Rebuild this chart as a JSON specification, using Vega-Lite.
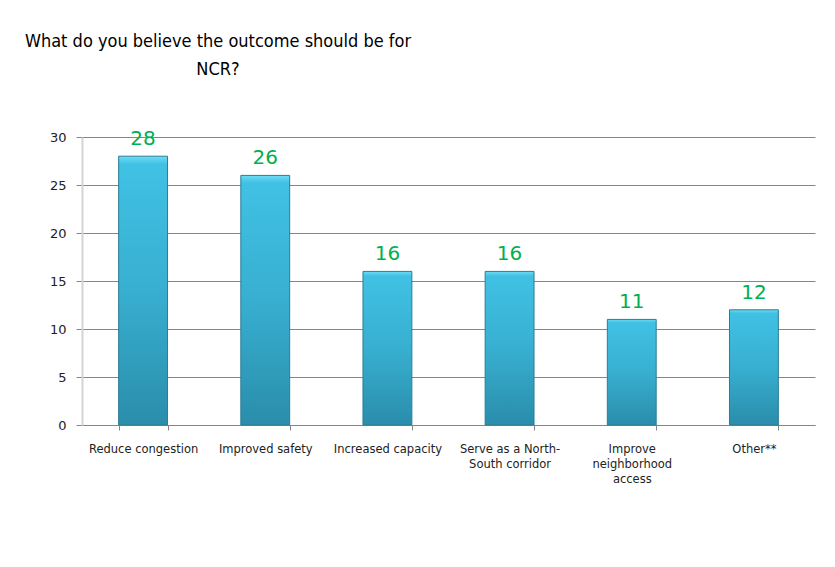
{
  "$schema": "https://vega.github.io/schema/vega-lite/v6.json",
  "width": 733,
  "height": 288,
  "autosize": "none",
  "padding": {"left": 82, "top": 137, "right": 20, "bottom": 142},
  "background": "white",
  "title": {
    "text": ["What do you believe the outcome should be for", "NCR?"],
    "anchor": "start",
    "frame": "group",
    "align": "center",
    "dx": 136,
    "offset": 50,
    "font": "DejaVu Sans Condensed, Liberation Sans, sans-serif",
    "fontSize": 18,
    "fontWeight": "normal",
    "lineHeight": 28,
    "color": "#000000"
  },
  "data": {
    "values": [
      {"outcome": "Reduce congestion", "count": 28},
      {"outcome": "Improved safety", "count": 26},
      {"outcome": "Increased capacity", "count": 16},
      {"outcome": "Serve as a North-South corridor", "count": 16},
      {"outcome": "Improve neighborhood access", "count": 11},
      {"outcome": "Other**", "count": 12}
    ]
  },
  "encoding": {
    "x": {
      "field": "outcome",
      "type": "nominal",
      "sort": null,
      "title": null,
      "scale": {"paddingInner": 0.6, "paddingOuter": 0.3},
      "axis": {
        "labelAngle": 0,
        "tickBand": "extent",
        "tickSize": 5,
        "tickColor": "#868686",
        "domainColor": "#868686",
        "labelPadding": 13,
        "labelFont": "DejaVu Sans",
        "labelFontSize": 11.5,
        "labelColor": "#222222",
        "labelLimit": 200,
        "labelLineHeight": 15,
        "labelExpr": "datum.value == 'Serve as a North-South corridor' ? ['Serve as a North-', 'South corridor'] : datum.value == 'Improve neighborhood access' ? ['Improve', 'neighborhood', 'access'] : datum.value"
      }
    },
    "y": {
      "field": "count",
      "type": "quantitative",
      "title": null,
      "scale": {"domain": [0, 30]},
      "axis": {
        "values": [0, 5, 10, 15, 20, 25, 30],
        "grid": true,
        "gridColor": "#868686",
        "gridOpacity": 1,
        "gridWidth": 1,
        "tickColor": "#868686",
        "tickSize": 6,
        "domainColor": "#d4d4d4",
        "domainWidth": 2,
        "labelPadding": 10,
        "labelFont": "DejaVu Sans",
        "labelFontSize": 13,
        "labelColor": "#222222"
      }
    }
  },
  "layer": [
    {
      "mark": {
        "type": "bar",
        "stroke": "#2a7d96",
        "strokeWidth": 1,
        "color": {
          "gradient": "linear",
          "x1": 0, "y1": 0, "x2": 0, "y2": 1,
          "stops": [
            {"offset": 0, "color": "#6fdcf5"},
            {"offset": 0.03, "color": "#40c1e4"},
            {"offset": 0.5, "color": "#38afd0"},
            {"offset": 1, "color": "#2a8dab"}
          ]
        }
      }
    },
    {
      "mark": {
        "type": "text",
        "dy": -11,
        "baseline": "alphabetic",
        "font": "DejaVu Sans",
        "fontSize": 20,
        "color": "#00b050"
      },
      "encoding": {"text": {"field": "count", "type": "quantitative"}}
    }
  ],
  "config": {"view": {"stroke": null}}
}
